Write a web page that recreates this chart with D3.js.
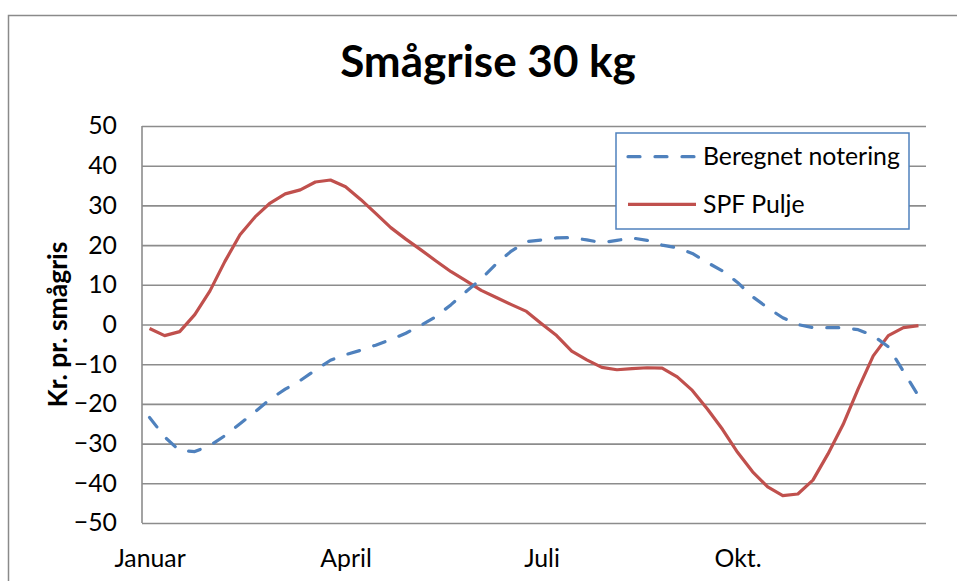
<!DOCTYPE html>
<html>
<head>
<meta charset="utf-8">
<script src="https://cdn.jsdelivr.net/npm/d3@7"></script>
<style>
    body { margin: 0; background: #fff; }
    text { font-family: Lato, sans-serif; fill: #000; }
</style>
</head>
<body>
<div class="svg"></div>
<script>
// uger 1..52
var weeks = d3.range(1, 53);
var monthLabels = ['Januar', 'April', 'Juli', 'Okt.'];
var monthWeeks = [1, 14, 27, 40];
var yTicks = [-50, -40, -30, -20, -10, 0, 10, 20, 30, 40, 50];

var beregnet = [-23.4, -28.3, -31.8, -32.0, -30.5, -28.0, -25.0, -22.0, -18.8, -16.3,
    -14.1, -11.5, -9.0, -7.6, -6.5, -5.2, -3.8, -2.2, -0.2, 2.0,
    5.0, 8.3, 11.5, 15.3, 18.5, 20.9, 21.3, 21.8, 21.9, 21.3,
    20.6, 21.2, 21.8, 21.2, 20.0, 19.3, 17.9, 15.6, 13.5, 10.6,
    7.0, 4.2, 1.7, 0.0, -0.8, -0.8, -0.8, -1.3, -2.8, -5.6,
    -11.8, -18.0];

var spfPulje = [-1.0, -2.8, -1.8, 2.5, 8.4, 15.9, 22.6, 27.1, 30.6, 32.9,
    33.9, 35.9, 36.4, 34.7, 31.5, 28.0, 24.4, 21.5, 18.8, 16.0,
    13.3, 11.0, 8.6, 6.8, 5.0, 3.3, 0.2, -2.8, -6.7, -8.9,
    -10.8, -11.4, -11.1, -10.9, -11.0, -13.2, -16.6, -21.3, -26.4, -32.2,
    -37.1, -40.9, -43.1, -42.7, -39.2, -32.6, -25.2, -16.2, -7.9, -2.8,
    -0.8, -0.3];

var seriesNames = ['Beregnet notering', 'SPF Pulje'];

var width = 957, height = 581;
var plotLeft = 142, plotRight = 926, plotTop = 126, plotBottom = 523;
var fontSize = '24.8px';

var svg = d3.select('div.svg')
    .append('svg')
    .attr('width', width)
    .attr('height', height)

// ramme
svg.append('rect')
    .attr('x', 8.5)
    .attr('y', 15.5)
    .attr('width', 970)
    .attr('height', 600)
    .attr('fill', 'white')
    .attr('stroke', '#8a8a8a')
    .attr('stroke-width', 1.5)

svg.append('text')
    .attr('x', 488)
    .attr('y', 77)
    .attr('text-anchor', 'middle')
    .style('font-weight', 'bold')
    .style('font-size', '44px')
    .text('Smågrise 30 kg')

var x = d3.scalePoint()
    .domain(weeks)
    .range([plotLeft, plotRight])
    .padding(0.5)

var y = d3.scaleLinear()
    .domain([-50, 50])
    .range([plotBottom, plotTop])

// gitterlinjer + y-akse
var yAxis = svg.append('g')
    .attr('transform', 'translate(' + plotLeft + ',0)')
    .call(d3.axisLeft(y).tickValues(yTicks).tickSize(-(plotRight - plotLeft)).tickPadding(25))
yAxis.select('.domain').remove()
yAxis.selectAll('line')
    .attr('stroke', '#8c8c8c')
    .attr('stroke-width', 1.6)
yAxis.selectAll('text')
    .style('font-family', 'Lato, sans-serif')
    .style('font-size', fontSize)
    .attr('fill', '#000')

svg.append('line')
    .attr('x1', plotLeft).attr('x2', plotLeft)
    .attr('y1', plotTop).attr('y2', plotBottom)
    .attr('stroke', '#8c8c8c')
    .attr('stroke-width', 1.6)

var xAxis = svg.append('g')
    .attr('transform', 'translate(0,' + plotBottom + ')')
    .call(d3.axisBottom(x).tickValues(monthWeeks).tickSize(0).tickPadding(26)
        .tickFormat(function (d, i) { return monthLabels[i]; }))
xAxis.select('.domain').remove()
xAxis.selectAll('text')
    .style('font-family', 'Lato, sans-serif')
    .style('font-size', fontSize)
    .attr('fill', '#000')

svg.append('text')
    .attr('transform', 'translate(67,' + ((plotTop + plotBottom) / 2) + ') rotate(-90)')
    .attr('text-anchor', 'middle')
    .style('font-weight', 'bold')
    .style('font-size', '26.5px')
    .text('Kr. pr. smågris')

var line = d3.line()
    .x(function (d, i) { return x(weeks[i]); })
    .y(function (d) { return y(d); })

svg.append('path')
    .datum(spfPulje)
    .attr('d', line)
    .attr('fill', 'none')
    .attr('stroke', '#C0504D')
    .attr('stroke-width', 3.2)
    .attr('stroke-linejoin', 'round')

svg.append('path')
    .datum(beregnet)
    .attr('d', line)
    .attr('fill', 'none')
    .attr('stroke', '#4F81BD')
    .attr('stroke-width', 3.2)
    .attr('stroke-dasharray', '12,15')
    .attr('stroke-linecap', 'round')
    .attr('stroke-linejoin', 'round')

// legend
var legend = svg.append('g')
legend.append('rect')
    .attr('x', 616)
    .attr('y', 133)
    .attr('width', 293)
    .attr('height', 96)
    .attr('fill', 'white')
    .attr('stroke', '#4F81BD')
    .attr('stroke-width', 1.5)

var legendRows = legend.selectAll('g.row')
    .data(seriesNames)
    .enter()
    .append('g')
    .attr('class', 'row')
    .attr('transform', function (d, i) { return 'translate(0,' + (156.7 + i * 47.6) + ')'; })

legendRows.append('line')
    .attr('x1', 628).attr('x2', 696)
    .attr('y1', 0).attr('y2', 0)
    .attr('stroke', function (d, i) { return i == 0 ? '#4F81BD' : '#C0504D'; })
    .attr('stroke-width', 3.2)
    .attr('stroke-dasharray', function (d, i) { return i == 0 ? '12,15' : null; })
    .attr('stroke-linecap', function (d, i) { return i == 0 ? 'round' : 'butt'; })

legendRows.append('text')
    .attr('x', 703)
    .attr('y', 8.5)
    .style('font-size', fontSize)
    .text(function (d) { return d; })
</script>
</body>
</html>
